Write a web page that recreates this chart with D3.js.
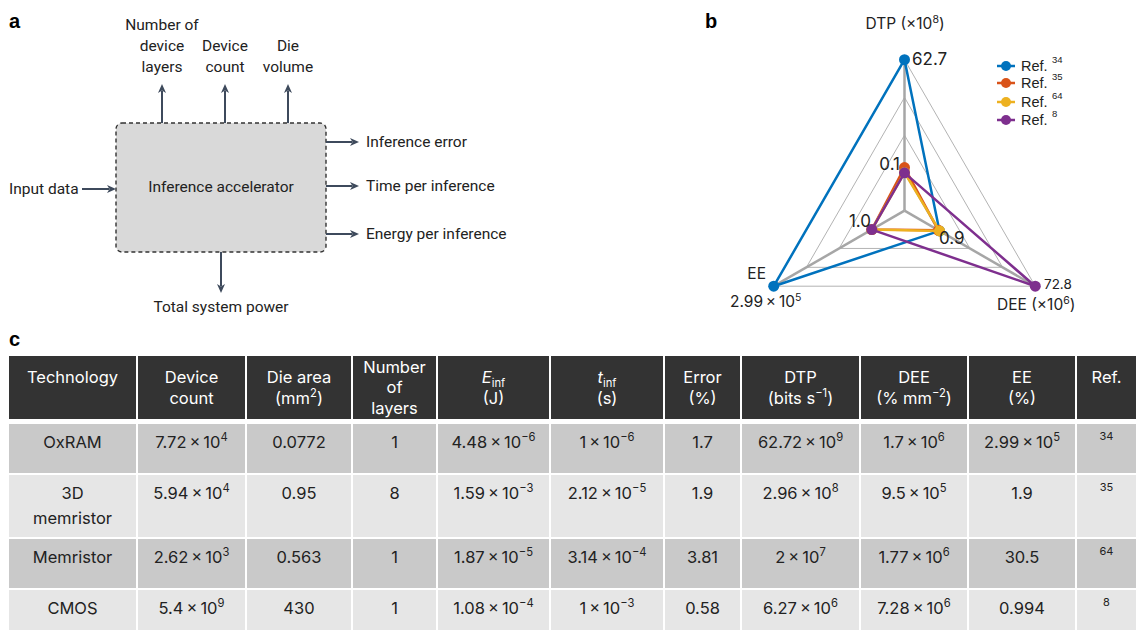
<!DOCTYPE html>
<html>
<head>
<meta charset="utf-8">
<script src="https://cdn.jsdelivr.net/npm/d3@7"></script>
<style>
  body { margin: 0; background: #fff; }
  svg { display: block; }
  text { font-family: Inter, "Open Sans", sans-serif; fill: #222; }
  .diag text { font-family: Roboto, sans-serif; fill: #222; }
  .letter { font-family: "Liberation Sans", Arial, sans-serif; font-weight: bold; font-size: 20px; fill: #000; }
</style>
</head>
<body>
<script>
// ---- panel b data (radar) ----
const radarAxes = ["DTP", "DEE", "EE"];
const refLabels = ["34", "35", "64", "8"];
const refColors = ["#0072bd", "#d95319", "#edb120", "#7e2f8e"];
const dtpValues = [62.72, 2.96, 0.2, 0.0627];   // x10^8
const deeValues = [1.7, 0.95, 1.77, 72.8];      // x10^6 as plotted
const eeValues = [2.99e5, 1.9, 30.5, 0.994];

// ---- panel c data (table) ----
const headers = [
  ["Technology", ""], ["Device", "count"], ["Die area", "(mm^{2})"], ["Number", "of", "layers"],
  ["*E*_{inf}", "(J)"], ["*t*_{inf}", "(s)"], ["Error", "(%)"], ["DTP", "(bits s^{−1})"],
  ["DEE", "(% mm^{−2})"], ["EE", "(%)"], ["Ref.", ""]
];
const technology = [["OxRAM"], ["3D", "memristor"], ["Memristor"], ["CMOS"]];
const deviceCount = ["7.72 × 10^{4}", "5.94 × 10^{4}", "2.62 × 10^{3}", "5.4 × 10^{9}"];
const dieArea = ["0.0772", "0.95", "0.563", "430"];
const layers = ["1", "8", "1", "1"];
const eInf = ["4.48 × 10^{−6}", "1.59 × 10^{−3}", "1.87 × 10^{−5}", "1.08 × 10^{−4}"];
const tInf = ["1 × 10^{−6}", "2.12 × 10^{−5}", "3.14 × 10^{−4}", "1 × 10^{−3}"];
const errorPct = ["1.7", "1.9", "3.81", "0.58"];
const dtpText = ["62.72 × 10^{9}", "2.96 × 10^{8}", "2 × 10^{7}", "6.27 × 10^{6}"];
const deeText = ["1.7 × 10^{6}", "9.5 × 10^{5}", "1.77 × 10^{6}", "7.28 × 10^{6}"];
const eeText = ["2.99 × 10^{5}", "1.9", "30.5", "0.994"];

const W = 1137, H = 630;
const svg = d3.select("body").append("svg").attr("width", W).attr("height", H);

// write a string with ^{sup}, _{sub}, *italic* into a text element
function rich(sel, str, fs) {
  const parts = str.replace(/ × /g, "\u2009×\u2009").split(/(\^\{[^}]*\}|_\{[^}]*\}|\*[^*]*\*)/).filter(p => p !== "");
  let shift = 0;
  parts.forEach(p => {
    const t = sel.append("tspan");
    if (p.startsWith("^{") || p.startsWith("_{")) {
      const up = p[0] === "^";
      const target = up ? -fs * 0.42 : fs * 0.22;
      t.attr("dy", target - shift).style("font-size", (fs * 0.68) + "px").text(p.slice(2, -1));
      shift = target;
    } else {
      if (shift !== 0) { t.attr("dy", -shift); shift = 0; }
      if (p.startsWith("*")) t.style("font-style", "italic").text(p.slice(1, -1));
      else t.text(p);
    }
  });
}

function arrow(g, x1, y1, x2, y2) {
  const col = "#3e4a5c";
  const a = Math.atan2(y2 - y1, x2 - x1);
  const L = 9, hw = 4;
  const bx = x2 - L * Math.cos(a), by = y2 - L * Math.sin(a);
  g.append("line").attr("x1", x1).attr("y1", y1).attr("x2", bx + 2 * Math.cos(a)).attr("y2", by + 2 * Math.sin(a))
    .attr("stroke", col).attr("stroke-width", 2);
  const px = -Math.sin(a), py = Math.cos(a);
  const nx = x2 - (L - 2.5) * Math.cos(a), ny = y2 - (L - 2.5) * Math.sin(a);
  g.append("path")
    .attr("d", `M${x2},${y2}L${bx + hw * px},${by + hw * py}L${nx},${ny}L${bx - hw * px},${by - hw * py}Z`)
    .attr("fill", col);
}

// ---- panel letters ----
svg.append("text").attr("class", "letter").attr("x", 9).attr("y", 28).text("a");
svg.append("text").attr("class", "letter").attr("x", 705).attr("y", 28).text("b");
svg.append("text").attr("class", "letter").attr("x", 9).attr("y", 346).text("c");

// ---- panel a: block diagram ----
const diag = svg.append("g").attr("class", "diag");
const fsA = 15.5;
diag.append("rect").attr("x", 116).attr("y", 123).attr("width", 210).attr("height", 129).attr("rx", 6)
  .attr("fill", "#d9d9d9").attr("stroke", "#333").attr("stroke-width", 1.4).attr("stroke-dasharray", "4,3");
diag.append("text").attr("x", 221).attr("y", 187).attr("dy", "0.35em").attr("text-anchor", "middle")
  .style("font-size", fsA + "px").text("Inference accelerator");

const upLabels = [["Number of", "device", "layers"], ["Device", "count"], ["Die", "volume"]];
const upX = [162, 225, 288];
upLabels.forEach((lines, i) => {
  arrow(diag, upX[i], 123, upX[i], 84);
  const y0 = 67 - (lines.length - 1) * 21;
  lines.forEach((l, j) => {
    diag.append("text").attr("x", upX[i]).attr("y", y0 + j * 21).attr("dy", "0.35em")
      .attr("text-anchor", "middle").style("font-size", fsA + "px").text(l);
  });
});

const outLabels = ["Inference error", "Time per inference", "Energy per inference"];
const outY = [142, 186, 234];
outLabels.forEach((l, i) => {
  arrow(diag, 326, outY[i], 359, outY[i]);
  diag.append("text").attr("x", 366).attr("y", outY[i]).attr("dy", "0.35em").style("font-size", fsA + "px").text(l);
});
arrow(diag, 82, 189, 116, 189);
diag.append("text").attr("x", 9).attr("y", 189).attr("dy", "0.35em").style("font-size", fsA + "px").text("Input data");
arrow(diag, 221, 252, 221, 293);
diag.append("text").attr("x", 221).attr("y", 307).attr("dy", "0.35em").attr("text-anchor", "middle")
  .style("font-size", fsA + "px").text("Total system power");

// ---- panel b: radar ----
const cx = 904.5, cy = 210.7, R = 151;
const angles = [-90, 30, 150].map(d => d * Math.PI / 180);
const radarSeries = [dtpValues, deeValues, eeValues];
const rScales = radarSeries.map(vals => d3.scaleLinear().domain([0, d3.max(vals)]).range([0.25 * R, R]));
const radar = svg.append("g");
const pt = (ax, r) => [cx + r * Math.cos(angles[ax]), cy + r * Math.sin(angles[ax])];

[0.25, 0.5, 0.75, 1].forEach(f => {
  radar.append("path").attr("d", d3.line()(angles.map((a, i) => pt(i, f * R))) + "Z")
    .attr("fill", "none").attr("stroke", "#b3b3b3").attr("stroke-width", 1);
});
angles.forEach((a, i) => {
  const [x, y] = pt(i, R);
  radar.append("line").attr("x1", cx).attr("y1", cy).attr("x2", x).attr("y2", y)
    .attr("stroke", "#a6a6a6").attr("stroke-width", 2.5);
});

refLabels.forEach((ref, s) => {
  const pts = radarAxes.map((ax, i) => pt(i, rScales[i](radarSeries[i][s])));
  radar.append("path").attr("d", d3.line()(pts) + "Z").attr("fill", "none")
    .attr("stroke", refColors[s]).attr("stroke-width", 2.5).attr("stroke-linejoin", "round");
  radar.selectAll(null).data(pts).join("circle").attr("cx", d => d[0]).attr("cy", d => d[1])
    .attr("r", 5.5).attr("fill", refColors[s]);
});

const rLab = (x, y, str, anchor, fs) => {
  const t = radar.append("text").attr("x", x).attr("y", y).attr("dy", "0.35em")
    .attr("text-anchor", anchor).style("font-size", fs + "px");
  rich(t, str, fs);
};
rLab(905, 24, "DTP (×10^{8})", "middle", 15.5);
rLab(912, 59, "62.7", "start", 17);
rLab(900, 164, "0.1", "end", 17);
rLab(871, 221, "1.0", "end", 17);
rLab(939, 238, "0.9", "start", 17);
rLab(1044, 284, "72.8", "start", 13.5);
rLab(766, 274, "EE", "end", 15.5);
rLab(730, 302, "2.99 × 10^{5}", "start", 15.5);
rLab(997, 305, "DEE (×10^{6})", "start", 15.5);

// legend
const legY = [66, 83, 102, 120];
refLabels.forEach((ref, s) => {
  const g = radar.append("g").attr("transform", `translate(1006,${legY[s]})`);
  g.append("line").attr("x1", -9).attr("x2", 9).attr("stroke", refColors[s]).attr("stroke-width", 2.5);
  g.append("circle").attr("r", 5).attr("fill", refColors[s]);
  g.append("text").attr("x", 15).attr("dy", "0.35em").style("font-family", "'Liberation Sans', Arial, sans-serif")
    .style("font-size", "14.5px").text("Ref.");
  g.append("text").attr("x", 46).attr("y", -3).style("font-family", "'Liberation Sans', Arial, sans-serif")
    .style("font-size", "9.5px").text(ref);
});

// ---- panel c: table ----
const colEdges = [8, 137, 246, 352, 437, 550, 664, 741, 860, 968, 1076, 1137];
const rowTops = [424, 475, 539, 590];
const rowBottoms = [473, 537, 588, 640];
const rowFill = ["#c9c9c9", "#e6e6e6", "#c9c9c9", "#e6e6e6"];
const fsT = 16.5;
const table = svg.append("g");
const colCenter = i => (colEdges[i] + colEdges[i + 1]) / 2;

headers.forEach((lines, i) => {
  table.append("rect").attr("x", colEdges[i] + 1).attr("y", 356).attr("width", colEdges[i + 1] - colEdges[i] - 2)
    .attr("height", 63).attr("fill", "#333");
  const y0 = 387.5 - (lines.length - 1) * 20.5 / 2;
  lines.forEach((l, j) => {
    const t = table.append("text").attr("x", colCenter(i)).attr("y", y0 + j * 20.5).attr("dy", "0.35em")
      .attr("text-anchor", "middle").style("font-size", fsT + "px").style("fill", "#fff");
    rich(t, l, fsT);
  });
});

const columns = [null, deviceCount, dieArea, layers, eInf, tInf, errorPct, dtpText, deeText, eeText, null];
rowTops.forEach((top, r) => {
  colEdges.slice(0, -1).forEach((x, i) => {
    table.append("rect").attr("x", x + 1).attr("y", top).attr("width", colEdges[i + 1] - x - 2)
      .attr("height", rowBottoms[r] - top).attr("fill", rowFill[r]);
  });
  const yc = top + 18.5;
  technology[r].forEach((l, j) => {
    table.append("text").attr("x", colCenter(0)).attr("y", yc + j * 25).attr("dy", "0.35em")
      .attr("text-anchor", "middle").style("font-size", fsT + "px").text(l);
  });
  columns.forEach((col, i) => {
    if (!col) return;
    const t = table.append("text").attr("x", colCenter(i)).attr("y", yc).attr("dy", "0.35em")
      .attr("text-anchor", "middle").style("font-size", fsT + "px");
    rich(t, col[r], fsT);
  });
  table.append("text").attr("x", colCenter(10)).attr("y", top + 12).attr("dy", "0.35em")
    .attr("text-anchor", "middle").style("font-size", "11px").text(refLabels[r]);
});
</script>
</body>
</html>
